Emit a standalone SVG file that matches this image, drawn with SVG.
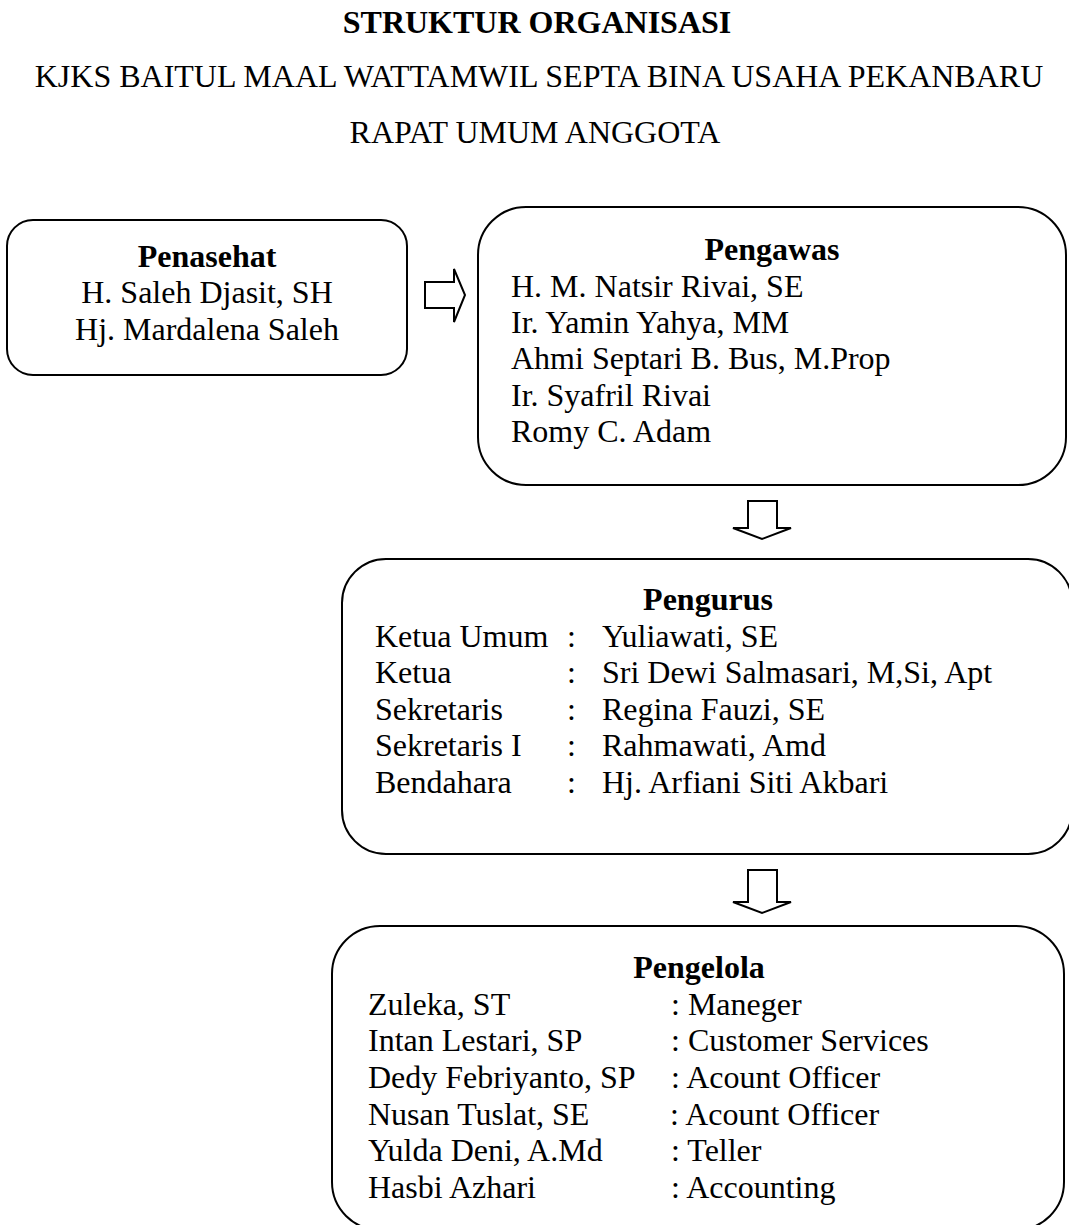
<svg xmlns="http://www.w3.org/2000/svg" width="1069" height="1225" viewBox="0 0 1069 1225">
<style>
text{font-family:"Liberation Serif","Times New Roman",serif;fill:#000;font-size:32px}
.b{font-weight:bold}
.box{fill:#fff;stroke:#000;stroke-width:2}
.arr{fill:#fff;stroke:#000;stroke-width:2;stroke-linejoin:miter}
</style>
<rect width="1069" height="1225" fill="#fff"/>
<g id="title">
<text class="b" x="537" y="33" text-anchor="middle">STRUKTUR ORGANISASI</text>
<text x="539" y="87" text-anchor="middle">KJKS BAITUL MAAL WATTAMWIL SEPTA BINA USAHA PEKANBARU</text>
<text x="535" y="143" text-anchor="middle">RAPAT UMUM ANGGOTA</text>
</g>
<g id="connectors">
<path class="arr" d="M425,282 H454 V269 L465,295 L454,322 V308 H425 Z"/>
<path class="arr" d="M748,501 H777 V528 H791 L762,539 L733,528 H748 Z"/>
<path class="arr" d="M748,870 H777 V902 H791 L762,913 L733,902 H748 Z"/>
</g>
<g id="penasehat">
<rect class="box" x="7" y="220" width="400" height="155" rx="26" ry="26"/>
<text class="b" x="207" y="267" text-anchor="middle">Penasehat</text>
<text x="207" y="303" text-anchor="middle">H. Saleh Djasit, SH</text>
<text x="207" y="340" text-anchor="middle">Hj. Mardalena Saleh</text>
</g>
<g id="pengawas">
<rect class="box" x="478" y="207" width="588" height="278" rx="48" ry="48"/>
<text class="b" x="772" y="260" text-anchor="middle">Pengawas</text>
<text x="511" y="297">H. M. Natsir Rivai, SE</text>
<text x="511" y="333">Ir. Yamin Yahya, MM</text>
<text x="511" y="369">Ahmi Septari B. Bus, M.Prop</text>
<text x="511" y="406">Ir. Syafril Rivai</text>
<text x="511" y="442">Romy C. Adam</text>
</g>
<g id="pengurus">
<rect class="box" x="342" y="559" width="730" height="295" rx="44" ry="44"/>
<text class="b" x="708" y="610" text-anchor="middle">Pengurus</text>
<text x="375" y="647">Ketua Umum</text>
<text x="567" y="647">:</text>
<text x="602" y="647">Yuliawati, SE</text>
<text x="375" y="683">Ketua</text>
<text x="567" y="683">:</text>
<text x="602" y="683">Sri Dewi Salmasari, M,Si, Apt</text>
<text x="375" y="720">Sekretaris</text>
<text x="567" y="720">:</text>
<text x="602" y="720">Regina Fauzi, SE</text>
<text x="375" y="756">Sekretaris I</text>
<text x="567" y="756">:</text>
<text x="602" y="756">Rahmawati, Amd</text>
<text x="375" y="793">Bendahara</text>
<text x="567" y="793">:</text>
<text x="602" y="793">Hj. Arfiani Siti Akbari</text>
</g>
<g id="pengelola">
<rect class="box" x="332" y="926" width="732" height="304" rx="48" ry="48"/>
<text class="b" x="699" y="978" text-anchor="middle">Pengelola</text>
<text x="368" y="1015">Zuleka, ST</text>
<text x="671" y="1015">: Maneger</text>
<text x="368" y="1051">Intan Lestari, SP</text>
<text x="671" y="1051">: Customer Services</text>
<text x="368" y="1088">Dedy Febriyanto, SP</text>
<text x="671" y="1088">: Acount Officer</text>
<text x="368" y="1125">Nusan Tuslat, SE</text>
<text x="670" y="1125">: Acount Officer</text>
<text x="368" y="1161">Yulda Deni, A.Md</text>
<text x="671" y="1161">: Teller</text>
<text x="368" y="1198">Hasbi Azhari</text>
<text x="671" y="1198">: Accounting</text>
</g>
</svg>
